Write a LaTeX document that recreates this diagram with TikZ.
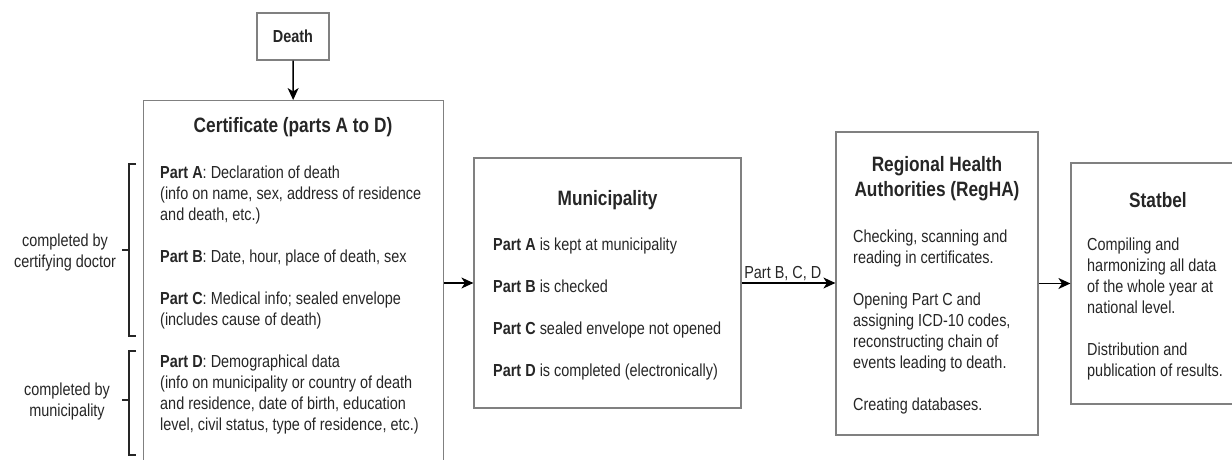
\documentclass[tikz,border=0pt]{standalone}
\usepackage{fontspec}
\setmainfont{Liberation Sans}[FakeStretch=0.83]
\usetikzlibrary{arrows.meta}
\definecolor{boxgray}{HTML}{808080}
\definecolor{txtgray}{HTML}{262626}

\begin{document}
\begin{tikzpicture}[x=1pt,y=-1pt,
	box/.style={rectangle, draw=boxgray, line width=1.2pt, inner sep=0pt, text=txtgray},
	title/.style={font=\fontsize{20.8}{25}\selectfont\bfseries, align=center, inner sep=0pt, text=txtgray},
	body/.style={font=\fontsize{17.4}{21}\selectfont, align=left, anchor=north west, inner sep=0pt, text=txtgray},
	side/.style={font=\fontsize{17.4}{21}\selectfont, align=center, inner sep=0pt, text=txtgray},
	edgelabel/.style={font=\fontsize{17.4}{21}\selectfont, inner sep=2pt, text=txtgray},
	bracket/.style={draw=txtgray, line width=1.2pt},
	flow/.style={draw=black, line width=1.4pt, ->},
	>={Stealth[length=12pt,width=11pt,inset=3.5pt]}]
	\useasboundingbox (0,0) rectangle (1232,460);

	%Boxes
	\node[box, font=\fontsize{17.4}{21}\selectfont\bfseries, minimum width=72pt, minimum height=47pt] (death) at (293,36.5) {Death};
	\node[box, anchor=north west, minimum width=300pt, minimum height=380pt] (cert) at (143,100) {};
	\node[box, minimum width=267pt, minimum height=250pt] (muni) at (607.5,283) {};
	\node[box, minimum width=202pt, minimum height=303pt] (regha) at (937,283.5) {};
	\node[box, minimum width=174pt, minimum height=241pt] (statbel) at (1158,283.5) {};

	%Certificate
	\node[title] (certtitle) at (293,127) {Certificate (parts A to D)};
	\node[body] (certbody) at (160,165.5) {\textbf{Part A}: Declaration of death\\
		(info on name, sex, address of residence\\
		and death, etc.)\\[21pt]
		\textbf{Part B}: Date, hour, place of death, sex\\[21pt]
		\textbf{Part C}: Medical info; sealed envelope\\
		(includes cause of death)\\[21pt]
		\textbf{Part D}: Demographical data\\
		(info on municipality or country of death\\
		and residence, date of birth, education\\
		level, civil status, type of residence, etc.)};

	%Municipality
	\node[title] (munititle) at (607.5,200) {Municipality};
	\node[body] (munibody) at (493,237.6) {\textbf{Part A} is kept at municipality\\[21pt]
		\textbf{Part B} is checked\\[21pt]
		\textbf{Part C} sealed envelope not opened\\[21pt]
		\textbf{Part D} is completed (electronically)};

	%RegHA
	\node[title] (reghatitle) at (937,179) {Regional Health\\Authorities (RegHA)};
	\node[body] (reghabody) at (853,229.6) {Checking, scanning and\\
		reading in certificates.\\[21pt]
		Opening Part C and\\
		assigning ICD-10 codes,\\
		reconstructing chain of\\
		events leading to death.\\[21pt]
		Creating databases.};

	%Statbel
	\node[title] (statbeltitle) at (1158,200) {Statbel};
	\node[body] (statbelbody) at (1087,237.6) {Compiling and\\
		harmonizing all data\\
		of the whole year at\\
		national level.\\[21pt]
		Distribution and\\
		publication of results.};

	%Side labels and brackets
	\node[side] (doctor) at (65,252) {completed by\\certifying doctor};
	\node[side] (municipal) at (67,401) {completed by\\municipality};
	\draw[bracket] (136,164) -- (129,164) -- (129,336) -- (136,336);
	\draw[bracket] (129,250) -- (122,250);
	\draw[bracket] (136,351) -- (129,351) -- (129,455) -- (136,455);
	\draw[bracket] (129,400) -- (122,400);

	%Arrows
	\draw[flow] (death) -- (cert);
	\draw[flow] (muni.west -| cert.east) -- (muni.west);
	\draw[flow] (muni.east) -- node[edgelabel, pos=0, anchor=south west] {Part B, C, D} (regha.west |- muni.east);
	\draw[flow] (regha) -- (statbel);
\end{tikzpicture}
\end{document}
